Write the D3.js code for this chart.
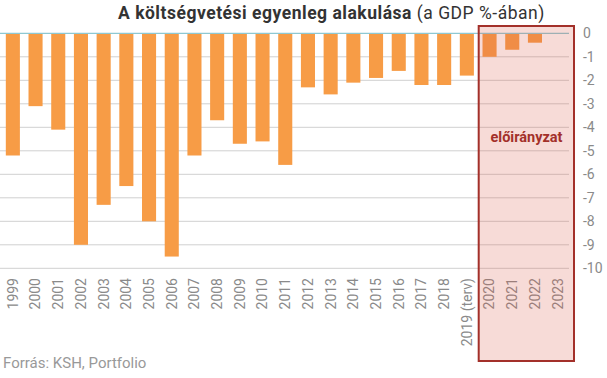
<!DOCTYPE html>
<html><head><meta charset="utf-8">
<script src="https://cdn.jsdelivr.net/npm/d3@7"></script>
<style>body{margin:0;background:#fff}svg{display:block;font-family:Roboto,sans-serif}</style>
</head><body>
<svg id="c" width="607" height="378"></svg>
<script>
const years = ["1999","2000","2001","2002","2003","2004","2005","2006","2007","2008","2009","2010","2011","2012","2013","2014","2015","2016","2017","2018","2019 (terv)","2020","2021","2022","2023"];
const values = [-5.2,-3.1,-4.1,-9.0,-7.3,-6.5,-8.0,-9.5,-5.2,-3.7,-4.7,-4.6,-5.6,-2.3,-2.6,-2.1,-1.9,-1.6,-2.2,-2.2,-1.8,-1.0,-0.7,-0.4,0];
const yTicks = [0,-1,-2,-3,-4,-5,-6,-7,-8,-9,-10];
const forecastYears = ["2020","2021","2022","2023"];
const titleBold = "A költségvetési egyenleg alakulása";
const titleNormal = " (a GDP %-ában)";
const forecastLabel = "előirányzat";
const sourceText = "Forrás: KSH, Portfolio";

const svg = d3.select("#c");
const x = d3.scaleBand().domain(years).range([1.5, 569]).paddingInner(0.38).paddingOuter(0.19);
const y = d3.scaleLinear().domain([0, -10]).range([33.3, 268.3]);

// gridlines
svg.append("g").selectAll("line").data(yTicks.filter(d => d !== 0)).join("line")
  .attr("x1", 0).attr("x2", 569).attr("y1", d => y(d)).attr("y2", d => y(d))
  .attr("stroke", "#d0d0d0").attr("stroke-width", 1);

// bars
svg.append("g").selectAll("rect").data(years.map((k, i) => ({k, v: values[i]}))).join("rect")
  .attr("x", d => x(d.k)).attr("width", x.bandwidth())
  .attr("y", y(0)).attr("height", d => y(d.v) - y(0))
  .attr("fill", "#f79c46");

// zero line
svg.append("line").attr("x1", 0).attr("x2", 569).attr("y1", y(0)).attr("y2", y(0))
  .attr("stroke", "#8ec8d2").attr("stroke-width", 1.2);

// y axis labels
svg.append("g").selectAll("text").data(yTicks).join("text")
  .attr("x", 583).attr("y", d => y(d)).attr("dy", "0.35em")
  .attr("font-size", 14).attr("fill", "#8a8a8a").text(d => d);

// x labels
svg.append("g").selectAll("text").data(years).join("text")
  .attr("transform", d => `translate(${x(d) + x.bandwidth()/2},278) rotate(-90)`)
  .attr("text-anchor", "end").attr("dy", "0.35em")
  .attr("font-size", 14).attr("fill", "#8a8a8a").text(d => d);

// forecast rect
const fx0 = x(forecastYears[0]) - (x.step() - x.bandwidth())/2 + 0.5;
const fx1 = 574;
svg.append("rect").attr("x", fx0).attr("y", 26).attr("width", fx1 - fx0).attr("height", 335)
  .attr("fill", "#dc5a4a").attr("fill-opacity", 0.22);
svg.append("rect").attr("x", fx0).attr("y", 26).attr("width", fx1 - fx0).attr("height", 335)
  .attr("fill", "none").attr("stroke", "#a3302a").attr("stroke-width", 2);

svg.append("text").attr("x", 526.5).attr("y", 142).attr("text-anchor", "middle")
  .attr("font-size", 14.5).attr("font-weight", "bold").attr("fill", "#a3302a").text(forecastLabel);

// title
const t = svg.append("text").attr("x", 118).attr("y", 19).attr("font-size", 17.5).attr("fill", "#333");
t.append("tspan").attr("font-weight", "bold").text(titleBold);
t.append("tspan").attr("font-weight", "normal").text(titleNormal);
const tl = t.node().getComputedTextLength();
const nChars = (titleBold + titleNormal).length;
t.attr("letter-spacing", ((427 - tl) / nChars).toFixed(2));

// source
svg.append("text").attr("x", 3).attr("y", 368).attr("font-size", 15).attr("fill", "#999").text(sourceText);
</script>
</body></html>
